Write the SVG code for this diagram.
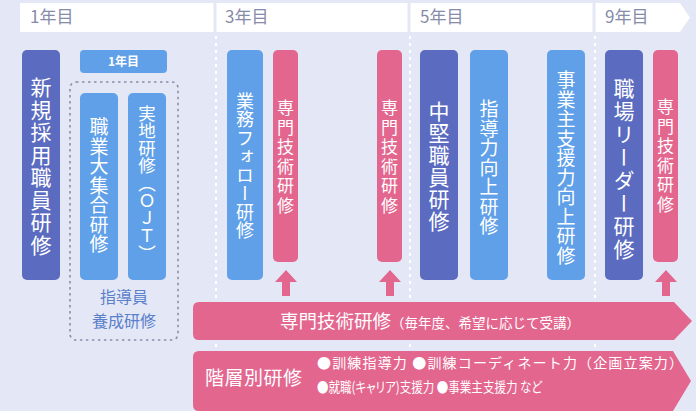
<svg xmlns="http://www.w3.org/2000/svg" width="696" height="411" viewBox="0 0 696 411">
<style>
.t{font-family:"Noto Sans CJK JP","Noto Sans",sans-serif;}
.palt{font-feature-settings:"palt" 1;}
.v{font-family:"Noto Sans CJK JP",sans-serif;writing-mode:vertical-rl;fill:#fff;text-anchor:middle;}
.dk{fill:#5a6bc0;}
.lt{fill:#5fa0e8;}
.pk{fill:#e3668f;}
.hd{font-family:"Noto Sans CJK JP",sans-serif;font-size:17px;fill:#858ba8;}
.sep{stroke:#ffffff;stroke-width:2;stroke-dasharray:3 4;}
</style>
<defs>
<path id="uparrow" d="M-11,282 L0,270 L11,282 L4,282 L4,296 L-4,296 L-4,282 Z"/>
</defs>
<rect x="0" y="0" width="696" height="411" fill="#e4e7f5"/>
<g id="header">
<path d="M20,3 H680 L690,17.5 L680,32 H20 Z" fill="#ffffff"/>
<g stroke="#e4e7f5" stroke-width="3">
<line x1="215" y1="3" x2="215" y2="32"/>
<line x1="409" y1="3" x2="409" y2="32"/>
<line x1="594" y1="3" x2="594" y2="32"/>
</g>
<text class="hd" x="30" y="23">1年目</text>
<text class="hd" x="225" y="23">3年目</text>
<text class="hd" x="420" y="23">5年目</text>
<text class="hd" x="605" y="23">9年目</text>
</g>
<g id="separators">
<line class="sep" x1="216" y1="36" x2="216" y2="411"/>
<line class="sep" x1="410" y1="36" x2="410" y2="411"/>
<line class="sep" x1="595" y1="36" x2="595" y2="411"/>
</g>
<g id="n-shinki">
<rect class="dk" x="22" y="50" width="38" height="230" rx="5"/>
<text class="v" x="41" y="167" font-size="21" letter-spacing="1.5">新規採用職員研修</text>
</g>
<g id="n-1nenme">
<rect class="lt" x="80" y="50" width="87" height="23" rx="4"/>
<text class="t" x="123.5" y="66" font-size="12" font-weight="bold" fill="#fff" text-anchor="middle">1年目</text>
</g>
<g id="n-shidouin">
<rect x="70" y="82" width="108" height="258" rx="6" fill="none" stroke="#8a8fa8" stroke-width="1.6" stroke-dasharray="2.5 3.5"/>
<text class="t" x="124" y="303" font-size="16" fill="#5a7fcb" text-anchor="middle">指導員</text>
<text class="t" x="124" y="327" font-size="16" fill="#5a7fcb" text-anchor="middle">養成研修</text>
</g>
<g id="n-shokugyo">
<rect class="lt" x="80" y="93" width="38" height="187" rx="5"/>
<text class="v" x="99" y="186" font-size="19" letter-spacing="0.5">職業大集合研修</text>
</g>
<g id="n-ojt">
<rect class="lt" x="128" y="93" width="38" height="187" rx="5"/>
<text class="v" x="147" y="183" font-size="17.5" letter-spacing="0">実地研修（ＯＪＴ）</text>
</g>
<g id="n-gyomu">
<rect class="lt" x="227" y="50" width="36" height="230" rx="5"/>
<text class="v" x="245" y="166" font-size="18" letter-spacing="0.5">業務フォロー研修</text>
</g>
<g id="n-senmon1">
<rect class="pk" x="273" y="50" width="25" height="212" rx="5"/>
<text class="v" x="285.5" y="158" font-size="17" letter-spacing="2.5">専門技術研修</text>
</g>
<g id="n-senmon2">
<rect class="pk" x="377" y="50" width="25" height="212" rx="5"/>
<text class="v" x="389.5" y="158" font-size="17" letter-spacing="2.5">専門技術研修</text>
</g>
<g id="n-chuken">
<rect class="dk" x="420" y="50" width="38" height="230" rx="5"/>
<text class="v" x="439" y="167" font-size="21" letter-spacing="1">中堅職員研修</text>
</g>
<g id="n-shidoryoku">
<rect class="lt" x="470" y="50" width="38" height="230" rx="5"/>
<text class="v" x="489" y="168" font-size="19" letter-spacing="0.5">指導力向上研修</text>
</g>
<g id="n-jigyonushi">
<rect class="lt" x="547" y="50" width="38" height="230" rx="5"/>
<text class="v" x="566" y="168" font-size="19" letter-spacing="0.5">事業主支援力向上研修</text>
</g>
<g id="n-leader">
<rect class="dk" x="605" y="50" width="38" height="230" rx="5"/>
<text class="v" x="624" y="170" font-size="21" letter-spacing="2">職場リーダー研修</text>
</g>
<g id="n-senmon3">
<rect class="pk" x="653" y="50" width="25" height="212" rx="5"/>
<text class="v" x="665.5" y="157" font-size="17" letter-spacing="2.5">専門技術研修</text>
</g>
<g id="connectors">
<use href="#uparrow" x="286" class="pk"/>
<use href="#uparrow" x="390" class="pk"/>
<use href="#uparrow" x="666" class="pk"/>
</g>
<g id="n-senmon-bar">
<path class="pk" d="M199,302 H674 L692,321 L674,340 H199 Q193,340 193,334 V308 Q193,302 199,302 Z"/>
<text class="t" x="280" y="328" fill="#fff"><tspan font-size="18.5">専門技術研修</tspan><tspan font-size="13.5">（毎年度、希望に応じて受講）</tspan></text>
</g>
<g id="n-kaisou-bar">
<path class="pk" d="M199,351 H673 L691,381 L673,411 H199 Q193,411 193,405 V357 Q193,351 199,351 Z"/>
<text class="t" x="205" y="385" font-size="19" fill="#fff" textLength="97">階層別研修</text>
<text class="t" x="317" y="368" font-size="14" fill="#fff" textLength="366">●訓練指導力 ●訓練コーディネート力（企画立案力）</text>
<text class="t palt" x="317" y="392" font-size="14" fill="#fff" textLength="225" lengthAdjust="spacingAndGlyphs">●就職(キャリア)支援力 ●事業主支援力 など</text>
</g>
</svg>
